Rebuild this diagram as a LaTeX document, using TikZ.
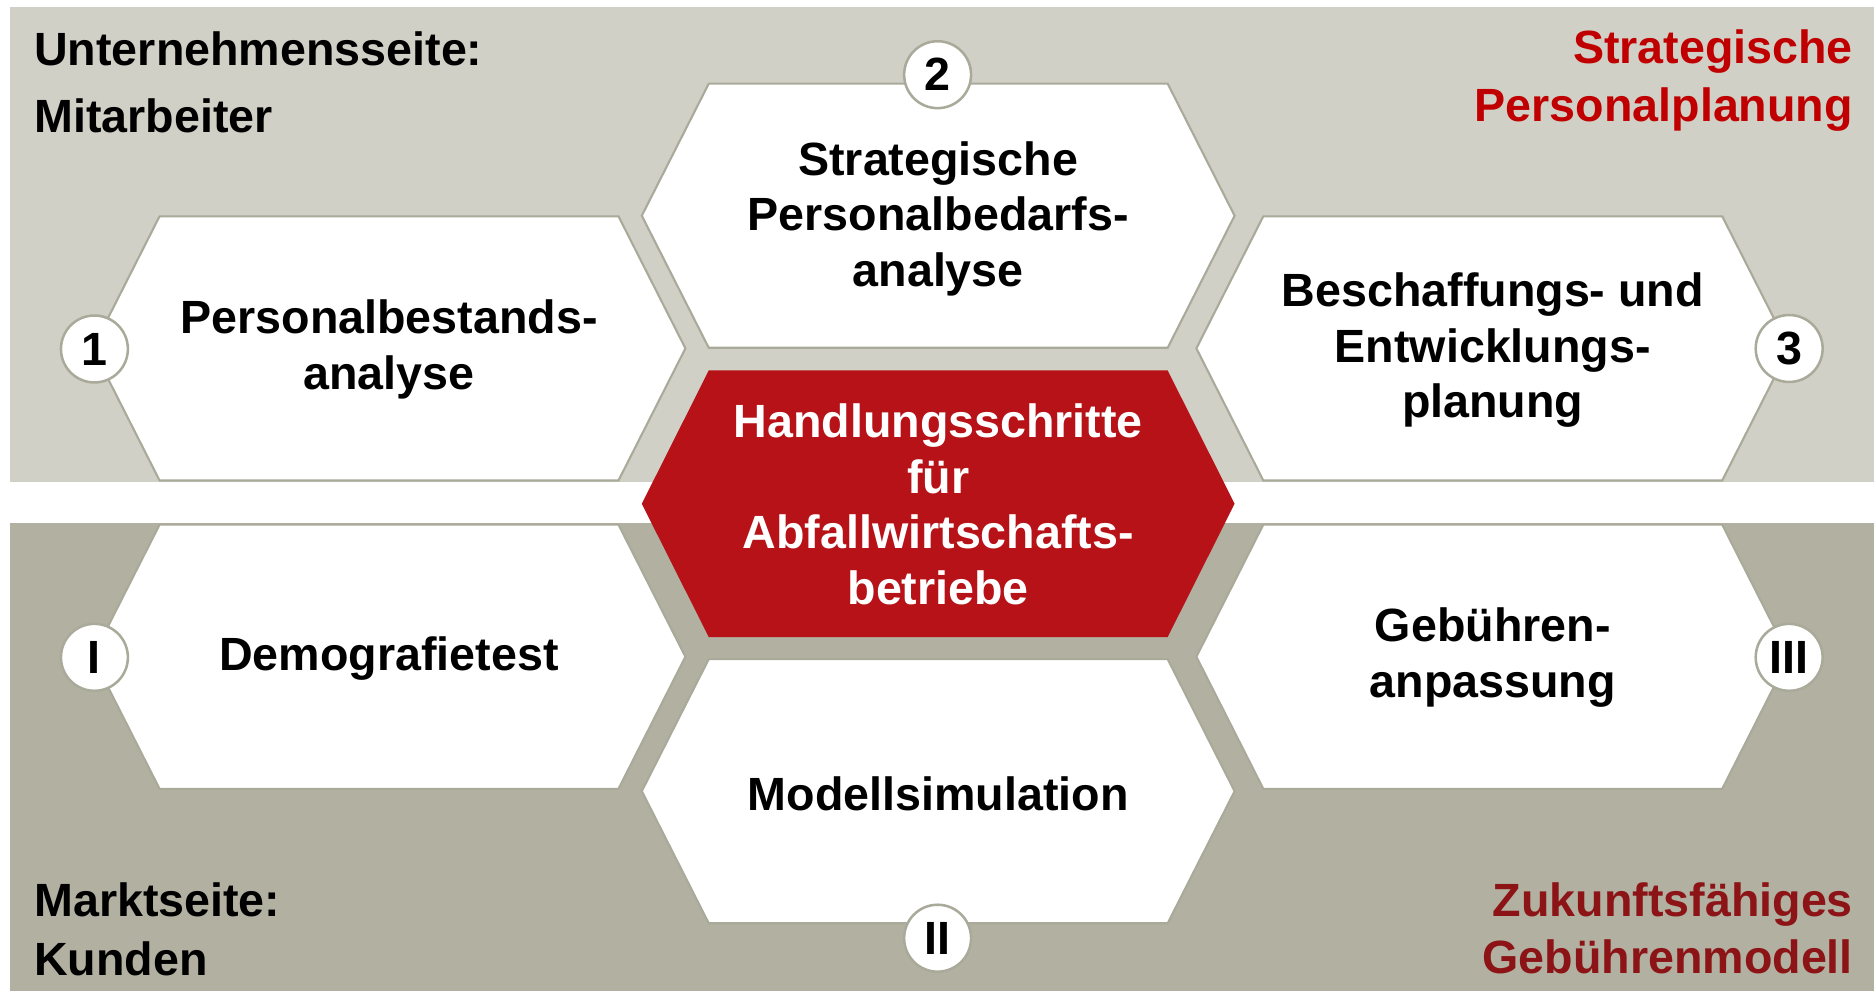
\documentclass[tikz,border=0pt]{standalone}
\usepackage{fontspec}
\setmainfont{Liberation Sans}
\usepackage{tikz}

\definecolor{bandtop}{RGB}{208,208,199}
\definecolor{bandbot}{RGB}{177,176,161}
\definecolor{hexedge}{RGB}{170,170,154}
\definecolor{handlungsrot}{RGB}{182,18,23}
\definecolor{titlered}{RGB}{192,0,0}
\definecolor{darkred}{RGB}{140,20,22}

\begin{document}
\begin{tikzpicture}[
  hexcell/.style={draw=hexedge,line width=0.5pt,fill=white},
  redcell/.style={fill=handlungsrot},
  celltext/.style={align=center,inner sep=0pt,font=\bfseries\fontsize{11.1}{13.2}\selectfont},
  numcircle/.style={circle,draw=hexedge,line width=0.6pt,fill=white,minimum size=0.56cm,inner sep=0pt,font=\bfseries\fontsize{11.1}{13}\selectfont},
  cornertext/.style={inner sep=0pt,font=\bfseries\fontsize{11.1}{15.5}\selectfont}
]
\useasboundingbox (0,0) rectangle (15.68,8.31);

% the two bands
\fill[bandtop] (0.08,4.28) rectangle (15.68,8.25);
\fill[bandbot] (0.08,0.02) rectangle (15.68,3.93);

% white cells
\foreach \cx/\cy in {3.255/5.395, 7.85/6.505, 12.49/5.395, 3.255/2.815, 7.85/1.69, 12.49/2.815}
  \draw[hexcell,shift={(\cx,\cy)}] (-2.48,0) -- (-1.92,1.105) -- (1.92,1.105) -- (2.48,0) -- (1.92,-1.105) -- (-1.92,-1.105) -- cycle;

% red cell in the middle
\fill[redcell,shift={(7.85,4.095)}] (-2.48,0) -- (-1.92,1.115) -- (1.92,1.115) -- (2.48,0) -- (1.92,-1.115) -- (-1.92,-1.115) -- cycle;

% cell texts
\node[celltext] (bestand) at (3.255,5.385) {Personalbestands-\\analyse};
\node[celltext] (bedarf) at (7.85,6.48) {Strategische\\Personalbedarfs-\\analyse};
\node[celltext] (planung) at (12.49,5.38) {Beschaffungs- und\\Entwicklungs-\\planung};
\node[celltext,text=white] (mitte) at (7.85,4.09) {Handlungsschritte\\für\\Abfallwirtschafts-\\betriebe};
\node[celltext] (demo) at (3.255,2.80) {Demografietest};
\node[celltext] (simul) at (7.85,1.67) {Modellsimulation};
\node[celltext] (gebuehr) at (12.49,2.81) {Gebühren-\\anpassung};

% numbers
\node[numcircle] (k1) at (0.79,5.39) {1};
\node[numcircle] (k2) at (7.845,7.685) {2};
\node[numcircle] (k3) at (14.97,5.394) {3};
\node[numcircle] (kI) at (0.79,2.81) {I};
\node[numcircle] (kII) at (7.845,0.46) {II};
\node[numcircle] (kIII) at (14.97,2.81) {III};

% corner labels
\node[cornertext,align=left,anchor=north west,font=\bfseries\fontsize{11.1}{15.8}\selectfont] (unternehmen) at (0.28,8.05) {Unternehmensseite:\\Mitarbeiter};
\node[cornertext,align=right,anchor=north east,text=titlered,font=\bfseries\fontsize{11.1}{13.6}\selectfont] (strategie) at (15.51,8.065) {Strategische\\Personalplanung};
\node[cornertext,align=left,anchor=south west,font=\bfseries\fontsize{11.1}{14}\selectfont] (markt) at (0.28,0.14) {Marktseite:\\Kunden};
\node[cornertext,align=right,anchor=south east,text=darkred,font=\bfseries\fontsize{11.1}{13.6}\selectfont] (modell) at (15.51,0.15) {Zukunftsfähiges\\Gebührenmodell};
\end{tikzpicture}
\end{document}
